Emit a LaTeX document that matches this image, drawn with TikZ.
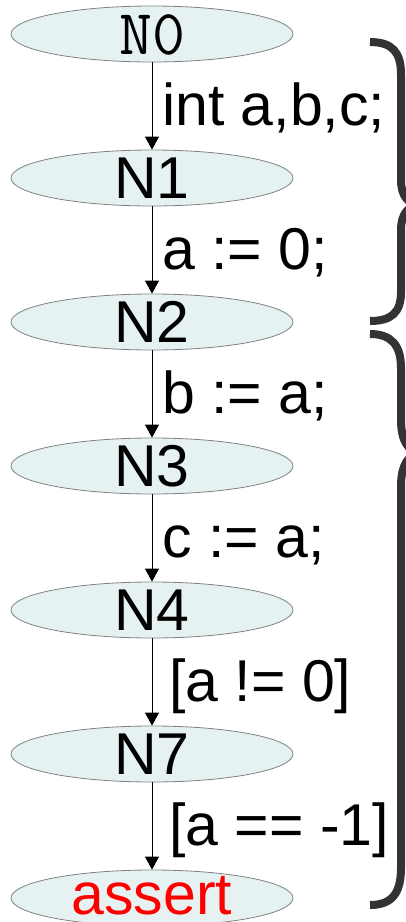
\documentclass[tikz,border=0pt]{standalone}
\usepackage{fontspec}
\setmainfont{Liberation Sans}
\usetikzlibrary{arrows.meta,calc,shapes.geometric}
\definecolor{nodefill}{RGB}{230,242,242}
\definecolor{nodeline}{RGB}{128,128,128}
\definecolor{bracecol}{RGB}{51,51,51}
\begin{document}
\begin{tikzpicture}[x=1pt,y=-1pt,
  state/.style={ellipse, draw=nodeline, fill=nodefill, line width=0.8pt,
    minimum width=282pt, minimum height=56pt, inner sep=0pt},
  nlab/.style={inner sep=0pt, anchor=base, font=\fontsize{59}{62}\selectfont},
  elab/.style={inner sep=0pt, anchor=base west, font=\fontsize{59}{62}\selectfont},
  flow/.style={-{Triangle[width=14pt,length=13pt]}, line width=0.9pt, draw=black},
  bracestroke/.style={line width=8pt, draw=bracecol}]
\useasboundingbox (0,0) rectangle (406,922);
\clip (0,0) rectangle (406,922);

% states
\node[state] (n0) at (152,34) {};
\node[state] (n1) at (152,178) {};
\node[state] (n2) at (152,322) {};
\node[state] (n3) at (152,466) {};
\node[state] (n4) at (152,610) {};
\node[state] (n7) at (152,754) {};
\node[state] (na) at (152,898) {};

% state texts
\node[nlab, font=\ttfamily\fontsize{64}{66}\selectfont] (t0) at ($(n0.center)+(0,20)$) {N0};
\node[nlab] (t1) at ($(n1.center)+(0,20)$) {N1};
\node[nlab] (t2) at ($(n2.center)+(0,20)$) {N2};
\node[nlab] (t3) at ($(n3.center)+(0,20)$) {N3};
\node[nlab] (t4) at ($(n4.center)+(0,20)$) {N4};
\node[nlab] (t7) at ($(n7.center)+(0,20)$) {N7};
\node[nlab, text=red] (ta) at ($(na.center)+(0,16)$) {assert};

% transitions
\draw[flow] (n0) -- (n1);
\draw[flow] (n1) -- (n2);
\draw[flow] (n2) -- (n3);
\draw[flow] (n3) -- (n4);
\draw[flow] (n4) -- (n7);
\draw[flow] (n7) -- (na);

% transition labels
\node[elab] (l1) at ($(n0.south)!0.5!(n1.north)+(10,19)$) {int a,b,c;};
\node[elab] (l2) at ($(n1.south)!0.5!(n2.north)+(10,19)$) {a := 0;};
\node[elab] (l3) at ($(n2.south)!0.5!(n3.north)+(10,19)$) {b := a;};
\node[elab] (l4) at ($(n3.south)!0.5!(n4.north)+(10,19)$) {c := a;};
\node[elab] (l5) at ($(n4.south)!0.5!(n7.north)+(17,19)$) {[a != 0]};
\node[elab] (l6) at ($(n7.south)!0.5!(na.north)+(17,19)$) {[a == -1]};

% braces
\draw[bracestroke] (370,42) .. controls (392,42) and (401,52) .. (401,74)
  -- (401,180) .. controls (401,196) and (408,205) .. (422,205);
\draw[bracestroke] (422,205) .. controls (408,205) and (401,214) .. (401,230)
  -- (401,292) .. controls (401,312) and (392,321) .. (370,321);
\draw[bracestroke] (370,334) .. controls (392,334) and (401,346) .. (401,368)
  -- (401,420) .. controls (401,440) and (408,453) .. (422,453);
\draw[bracestroke] (422,453) .. controls (408,453) and (401,466) .. (401,486)
  -- (401,868) .. controls (401,893) and (392,905) .. (370,905);
\end{tikzpicture}
\end{document}
